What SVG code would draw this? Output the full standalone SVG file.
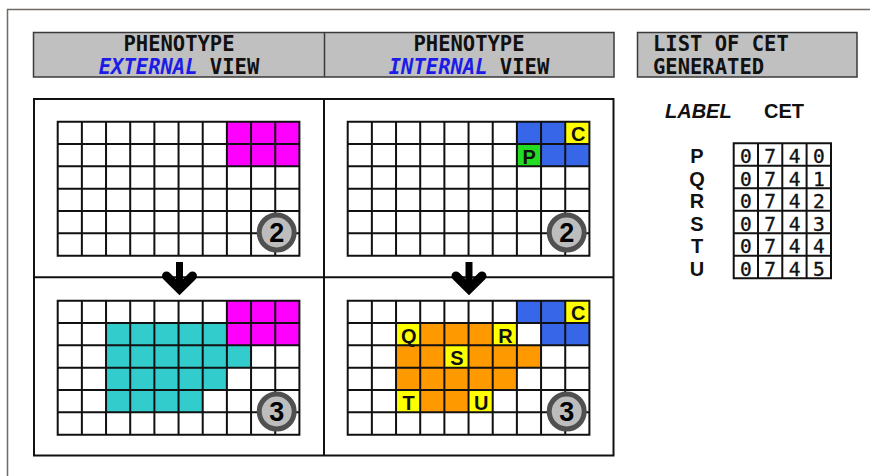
<svg xmlns="http://www.w3.org/2000/svg" xmlns:xlink="http://www.w3.org/1999/xlink" width="870" height="476" viewBox="0 0 870 476">
<style>
.hdr{fill:#c0c0c0;stroke:#3a3a3a;stroke-width:1.5}
.ht{font-family:"DejaVu Sans Mono","Liberation Mono",monospace;font-weight:bold;font-size:20.5px;fill:#111}
.hb{fill:#1c1ce6;font-style:italic}
.panel{fill:none;stroke:#111;stroke-width:2}
.gl{fill:none;stroke:#111;stroke-width:2}
.mag{fill:#ff00ff}
.blu{fill:#3766e8}
.yel{fill:#ffff00}
.grn{fill:#22dd22}
.cya{fill:#33cccc}
.org{fill:#ff9900}
.cl{font-family:"Liberation Sans",Arial,sans-serif;font-weight:bold;font-size:20px;fill:#111;text-anchor:middle}
.ring{fill:#bdbdbd;stroke:#505050;stroke-width:5}
.num{font-family:"Liberation Sans",Arial,sans-serif;font-weight:bold;font-size:27px;fill:#000;text-anchor:middle}
.lab{font-family:"Liberation Sans",Arial,sans-serif;font-weight:bold;font-size:20px;fill:#111}
.dig{font-family:"DejaVu Sans Mono","Liberation Mono",monospace;font-size:19.5px;fill:#111;stroke:#111;stroke-width:0.35;text-anchor:middle}
.tl{fill:none;stroke:#111;stroke-width:2}
.arr{fill:none;stroke:#000}
</style>
<defs>
<path id="grid" class="gl" d="M0,0H241.7V134H0Z M24.17,0V134 M48.34,0V134 M72.51,0V134 M96.68,0V134 M120.85,0V134 M145.02,0V134 M169.19,0V134 M193.36,0V134 M217.53,0V134 M0,22.33H241.7 M0,44.67H241.7 M0,67H241.7 M0,89.33H241.7 M0,111.67H241.7"/>
<circle id="ring" class="ring" cx="219" cy="110.8" r="17.5"/>
<polygon id="blob" points="48.34,22.33 169.19,22.33 169.19,44.67 193.36,44.67 193.36,67 169.19,67 169.19,89.33 145.02,89.33 145.02,111.67 48.34,111.67"/>
<g id="arrow">
<line class="arr" x1="0" y1="-33.5" x2="0" y2="-8" stroke-width="7"/>
<path class="arr" d="M-13,-19.5 L0,-6.5 L13,-19.5" stroke-width="9" stroke-linejoin="miter" stroke-linecap="round"/>
</g>
</defs>
<rect width="870" height="476" fill="#ffffff"/>
<path d="M7.5,476V9.5H870" fill="none" stroke="#6e6a66" stroke-width="1.5"/>

<g id="header-views">
<rect class="hdr" x="33.5" y="32.5" width="580.5" height="44.5"/>
<line x1="324.5" y1="32.5" x2="324.5" y2="77" stroke="#3a3a3a" stroke-width="1.5"/>
<text class="ht" x="179" y="50.5" text-anchor="middle">PHENOTYPE</text>
<text class="ht" x="179" y="74" text-anchor="middle"><tspan class="hb">EXTERNAL</tspan> VIEW</text>
<text class="ht" x="469" y="50.5" text-anchor="middle">PHENOTYPE</text>
<text class="ht" x="469" y="74" text-anchor="middle"><tspan class="hb">INTERNAL</tspan> VIEW</text>
</g>

<g id="header-list">
<rect class="hdr" x="637.5" y="32.5" width="219.5" height="44.5"/>
<text class="ht" x="653" y="51" font-size="21.3">LIST OF CET</text>
<text class="ht" x="653" y="74" font-size="21.3">GENERATED</text>
</g>

<g id="panel-frame">
<rect class="panel" x="34" y="99" width="579.5" height="356.5"/>
<line class="panel" x1="324" y1="99" x2="324" y2="455.5"/>
<line class="panel" x1="34" y1="277.3" x2="613.5" y2="277.3"/>
</g>

<g id="external-2" transform="translate(57.7,121.7)">
<rect class="mag" x="169.19" y="0" width="72.51" height="44.67"/>
<use xlink:href="#grid" href="#grid"/>
<use xlink:href="#ring" href="#ring"/>
<text class="num" x="219" y="120.5">2</text>
</g>

<g id="internal-2" transform="translate(347.7,121.7)">
<rect class="blu" x="169.19" y="0" width="48.34" height="22.33"/>
<rect class="blu" x="193.36" y="22.33" width="48.34" height="22.33"/>
<rect class="yel" x="217.53" y="0" width="24.17" height="22.33"/>
<rect class="grn" x="169.19" y="22.33" width="24.17" height="22.33"/>
<use xlink:href="#grid" href="#grid"/>
<text class="cl" x="230.6" y="19.8">C</text>
<text class="cl" x="181.6" y="42">P</text>
<use xlink:href="#ring" href="#ring"/>
<text class="num" x="219" y="120.5">2</text>
</g>

<g id="external-3" transform="translate(57.7,300.7)">
<rect class="mag" x="169.19" y="0" width="72.51" height="44.67"/>
<use xlink:href="#blob" href="#blob" class="cya"/>
<use xlink:href="#grid" href="#grid"/>
<use xlink:href="#ring" href="#ring"/>
<text class="num" x="219" y="120.5">3</text>
</g>

<g id="internal-3" transform="translate(347.7,300.7)">
<use xlink:href="#blob" href="#blob" class="org"/>
<rect class="blu" x="169.19" y="0" width="48.34" height="22.33"/>
<rect class="blu" x="193.36" y="22.33" width="48.34" height="22.33"/>
<rect class="yel" x="217.53" y="0" width="24.17" height="22.33"/>
<rect class="yel" x="48.34" y="22.33" width="24.17" height="22.33"/>
<rect class="yel" x="145.02" y="22.33" width="24.17" height="22.33"/>
<rect class="yel" x="96.68" y="44.67" width="24.17" height="22.33"/>
<rect class="yel" x="48.34" y="89.33" width="24.17" height="22.33"/>
<rect class="yel" x="120.85" y="89.33" width="24.17" height="22.33"/>
<use xlink:href="#grid" href="#grid"/>
<text class="cl" x="230.6" y="19.8">C</text>
<text class="cl" x="61" y="42">Q</text>
<text class="cl" x="157.7" y="42">R</text>
<text class="cl" x="109.3" y="64.4">S</text>
<text class="cl" x="61" y="109">T</text>
<text class="cl" x="133.5" y="109">U</text>
<use xlink:href="#ring" href="#ring"/>
<text class="num" x="219" y="120.5">3</text>
</g>

<g id="connectors">
<use xlink:href="#arrow" href="#arrow" transform="translate(179.5,295.5)"/>
<use xlink:href="#arrow" href="#arrow" transform="translate(469,295.5)"/>
</g>

<g id="cet-list">
<text class="lab" x="665" y="118" font-style="italic">LABEL</text>
<text class="lab" x="764" y="118">CET</text>
<g class="lab" text-anchor="middle">
<text x="697" y="163.3">P</text>
<text x="697" y="185.8">Q</text>
<text x="697" y="208.3">R</text>
<text x="697" y="230.8">S</text>
<text x="697" y="253.3">T</text>
<text x="697" y="275.8">U</text>
</g>
<path class="tl" d="M733.7,143.3H831V278.3H733.7Z M758,143.3V278.3 M782.3,143.3V278.3 M806.6,143.3V278.3 M733.7,165.8H831 M733.7,188.3H831 M733.7,210.8H831 M733.7,233.3H831 M733.7,255.8H831"/>
<g class="dig">
<text x="745.9" y="163.3">0</text><text x="770.2" y="163.3">7</text><text x="794.5" y="163.3">4</text><text x="818.8" y="163.3">0</text>
<text x="745.9" y="185.8">0</text><text x="770.2" y="185.8">7</text><text x="794.5" y="185.8">4</text><text x="818.8" y="185.8">1</text>
<text x="745.9" y="208.3">0</text><text x="770.2" y="208.3">7</text><text x="794.5" y="208.3">4</text><text x="818.8" y="208.3">2</text>
<text x="745.9" y="230.8">0</text><text x="770.2" y="230.8">7</text><text x="794.5" y="230.8">4</text><text x="818.8" y="230.8">3</text>
<text x="745.9" y="253.3">0</text><text x="770.2" y="253.3">7</text><text x="794.5" y="253.3">4</text><text x="818.8" y="253.3">4</text>
<text x="745.9" y="275.8">0</text><text x="770.2" y="275.8">7</text><text x="794.5" y="275.8">4</text><text x="818.8" y="275.8">5</text>
</g>
</g>
</svg>
